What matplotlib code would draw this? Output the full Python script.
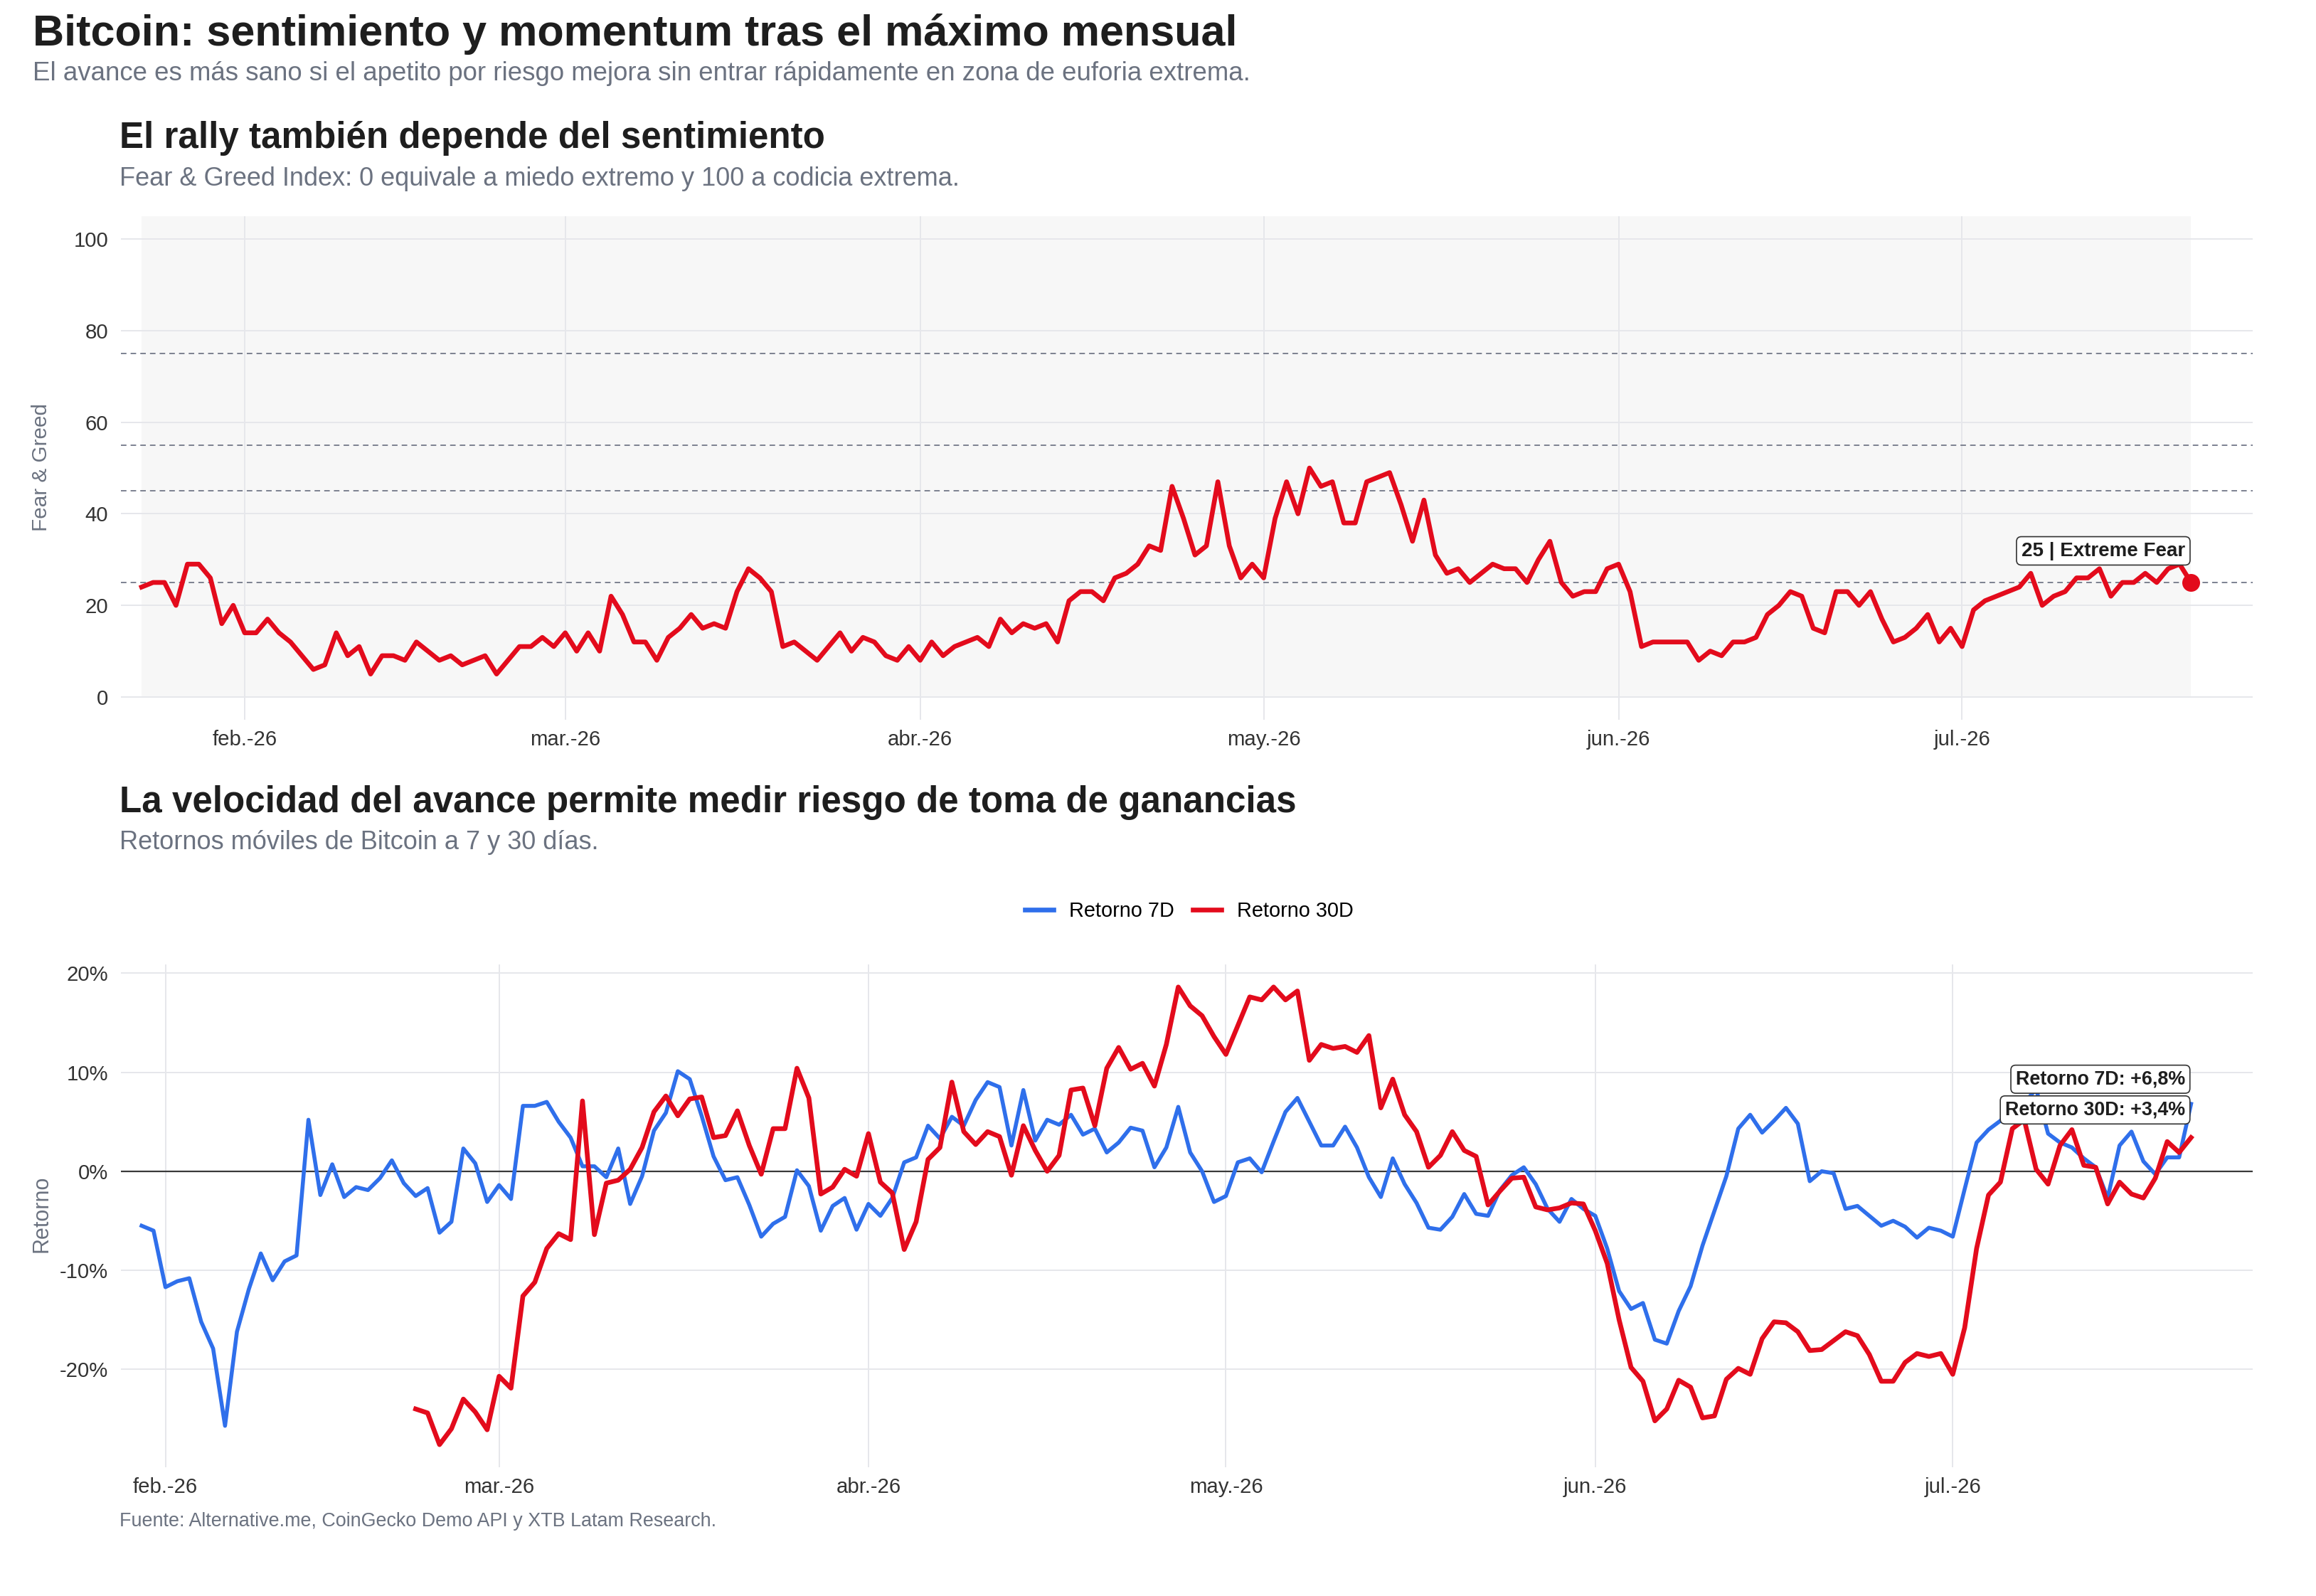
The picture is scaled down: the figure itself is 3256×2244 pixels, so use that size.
import numpy as np
import pandas as pd
import matplotlib
matplotlib.use("Agg")
import matplotlib.pyplot as plt
from matplotlib.lines import Line2D

plt.rcParams['font.family'] = ['Liberation Sans', 'DejaVu Sans']
plt.rcParams['axes.unicode_minus'] = False

# ---- data ----
start_date = "2026-01-23"
fear_greed = [24, 25, 25, 20, 29, 29, 26, 16, 20, 14, 14, 17, 14, 12, 9, 6, 7, 14, 9, 11,
              5, 9, 9, 8, 12, 10, 8, 9, 7, 8, 9, 5, 8, 11, 11, 13, 11, 14, 10, 14,
              10, 22, 18, 12, 12, 8, 13, 15, 18, 15, 16, 15, 23, 28, 26, 23, 11, 12, 10, 8,
              11, 14, 10, 13, 12, 9, 8, 11, 8, 12, 9, 11, 12, 13, 11, 17, 14, 16, 15, 16,
              12, 21, 23, 23, 21, 26, 27, 29, 33, 32, 46, 39, 31, 33, 47, 33, 26, 29, 26, 39,
              47, 40, 50, 46, 47, 38, 38, 47, 48, 49, 42, 34, 43, 31, 27, 28, 25, 27, 29, 28,
              28, 25, 30, 34, 25, 22, 23, 23, 28, 29, 23, 11, 12, 12, 12, 12, 8, 10, 9, 12,
              12, 13, 18, 20, 23, 22, 15, 14, 23, 23, 20, 23, 17, 12, 13, 15, 18, 12, 15, 11,
              19, 21, 22, 23, 24, 27, 20, 22, 23, 26, 26, 28, 22, 25, 25, 27, 25, 28, 29, 25]
fg_label = "Extreme Fear"
fg_levels = [25, 45, 55, 75]

# rolling returns in %, aligned to the end of the date range
ret_7d = [-5.5, -6.0, -11.7, -11.1, -10.8, -15.2, -17.9, -25.7, -16.2, -11.9,
          -8.3, -11.0, -9.1, -8.5, 5.2, -2.4, 0.7, -2.6, -1.6, -1.9,
          -0.7, 1.1, -1.2, -2.5, -1.7, -6.2, -5.1, 2.3, 0.8, -3.1,
          -1.4, -2.8, 6.6, 6.6, 7.0, 5.0, 3.4, 0.5, 0.5, -0.6,
          2.3, -3.3, -0.5, 4.1, 5.9, 10.1, 9.3, 5.6, 1.5, -0.9,
          -0.6, -3.4, -6.6, -5.3, -4.6, 0.1, -1.5, -6.0, -3.5, -2.7,
          -5.9, -3.3, -4.5, -2.7, 0.9, 1.4, 4.6, 3.3, 5.5, 4.6,
          7.2, 9.0, 8.5, 2.6, 8.2, 3.1, 5.2, 4.7, 5.7, 3.7,
          4.3, 1.9, 2.9, 4.4, 4.1, 0.4, 2.4, 6.5, 1.9, 0.0,
          -3.1, -2.5, 0.9, 1.3, -0.1, 3.0, 6.0, 7.4, 5.0, 2.6,
          2.6, 4.5, 2.4, -0.6, -2.6, 1.3, -1.3, -3.2, -5.7, -5.9,
          -4.6, -2.3, -4.3, -4.5, -1.9, -0.4, 0.4, -1.3, -3.8, -5.1,
          -2.8, -3.8, -4.5, -7.8, -12.1, -13.9, -13.3, -17.0, -17.4, -14.1,
          -11.6, -7.5, -4.0, -0.5, 4.3, 5.7, 3.9, 5.1, 6.4, 4.8,
          -1.0, 0.0, -0.2, -3.8, -3.5, -4.5, -5.5, -5.0, -5.6, -6.7,
          -5.7, -6.0, -6.6, -1.8, 2.9, 4.2, 5.1, 6.3, 6.9, 8.3,
          3.8, 2.9, 2.4, 1.3, 0.4, -2.7, 2.6, 4.0, 1.0, -0.3,
          1.4, 1.4, 6.8]
ret_30d = [-24.0, -24.4, -27.6, -26.0, -23.0, -24.3, -26.1, -20.7, -21.9, -12.6,
           -11.2, -7.8, -6.3, -6.9, 7.1, -6.4, -1.2, -0.9, 0.2, 2.4,
           6.0, 7.6, 5.6, 7.3, 7.5, 3.4, 3.6, 6.1, 2.6, -0.3,
           4.3, 4.3, 10.4, 7.4, -2.3, -1.6, 0.2, -0.5, 3.8, -1.1,
           -2.2, -7.9, -5.1, 1.2, 2.4, 9.0, 4.0, 2.7, 4.0, 3.5,
           -0.4, 4.6, 2.1, 0.0, 1.6, 8.2, 8.4, 4.6, 10.4, 12.5,
           10.3, 10.9, 8.6, 12.8, 18.6, 16.7, 15.7, 13.6, 11.8, 14.7,
           17.6, 17.3, 18.6, 17.3, 18.2, 11.2, 12.8, 12.4, 12.6, 12.0,
           13.7, 6.4, 9.3, 5.7, 4.0, 0.4, 1.6, 4.0, 2.1, 1.5,
           -3.4, -2.0, -0.7, -0.6, -3.6, -3.9, -3.7, -3.2, -3.3, -6.0,
           -9.3, -15.0, -19.8, -21.2, -25.2, -24.0, -21.1, -21.8, -24.9, -24.7,
           -21.0, -19.9, -20.5, -16.9, -15.2, -15.3, -16.2, -18.1, -18.0, -17.1,
           -16.2, -16.6, -18.5, -21.2, -21.2, -19.3, -18.4, -18.7, -18.4, -20.5,
           -15.8, -7.8, -2.4, -1.1, 4.3, 5.2, 0.2, -1.3, 2.6, 4.2,
           0.6, 0.4, -3.3, -1.1, -2.3, -2.7, -0.7, 3.0, 1.9, 3.4]

month_ticks = ["2026-02-01", "2026-03-01", "2026-04-01", "2026-05-01", "2026-06-01", "2026-07-01"]
month_labels = ["feb.-26", "mar.-26", "abr.-26", "may.-26", "jun.-26", "jul.-26"]

RED = "#E30B1C"
BLUE = "#2F6FEB"
GRID = "#E6E7EB"
SUB = "#6B7280"
DARK = "#1E1E1E"

dates = pd.date_range(start_date, periods=len(fear_greed), freq="D")
d7 = dates[len(dates) - len(ret_7d):]
d30 = dates[len(dates) - len(ret_30d):]
ticks = pd.to_datetime(month_ticks)


def style(ax, x0, x1):
    span = x1 - x0
    ax.set_xlim(x0 - 0.01 * span, x1 + 0.03 * span)
    for s in ax.spines.values():
        s.set_visible(False)
    ax.set_axisbelow(True)
    ax.grid(True, color=GRID, lw=0.7)
    ax.tick_params(length=0, labelsize=10.6, labelcolor="#333333")
    ax.tick_params(axis="y", pad=6.5)
    ax.tick_params(axis="x", pad=5)
    ax.set_xticks(ticks)
    ax.set_xticklabels(month_labels)


fig = plt.figure(figsize=(16.28, 11.22), dpi=200)

fig.text(0.014, 0.9713, "Bitcoin: sentimiento y momentum tras el máximo mensual",
         fontsize=22, fontweight="bold", color=DARK, va="baseline")
fig.text(0.014, 0.9495, "El avance es más sano si el apetito por riesgo mejora sin entrar "
         "rápidamente en zona de euforia extrema.", fontsize=13.2, color=SUB, va="baseline")

# ---- top panel ----
fig.text(0.0515, 0.9075, "El rally también depende del sentimiento",
         fontsize=18.4, fontweight="bold", color=DARK, va="baseline")
fig.text(0.0515, 0.8835, "Fear & Greed Index: 0 equivale a miedo extremo y 100 a codicia extrema.",
         fontsize=13, color=SUB, va="baseline")

ax1 = fig.add_axes([0.0523, 0.549, 0.9203, 0.3155])
style(ax1, dates[0], dates[-1])
ax1.set_ylim(-5, 105)
ax1.set_yticks([0, 20, 40, 60, 80, 100])
ax1.fill_between([dates[0], dates[-1]], 0, 105, color="#F7F7F7", zorder=0.2, lw=0)
for lv in fg_levels:
    ax1.axhline(lv, color="#7C8190", lw=0.7, ls=(0, (4, 3)), zorder=1)
ax1.plot(dates, fear_greed, color=RED, lw=2.4, zorder=3, solid_joinstyle="round")
ax1.plot(dates[-1], fear_greed[-1], "o", ms=8, color=RED, zorder=4)
ax1.annotate(f"{fear_greed[-1]} | {fg_label}", xy=(dates[-1], fear_greed[-1]),
             xytext=(-3, 16), textcoords="offset points", ha="right", va="center",
             fontsize=10, fontweight="bold", color=DARK, zorder=5,
             bbox=dict(boxstyle="round,pad=0.25,rounding_size=0.25", fc="white", ec="#333333", lw=0.6))
fig.text(0.0179, 0.7072, "Fear & Greed", rotation=90, ha="center", va="center",
         fontsize=10.7, color=SUB)

# ---- bottom panel ----
fig.text(0.0515, 0.4912, "La velocidad del avance permite medir riesgo de toma de ganancias",
         fontsize=18.4, fontweight="bold", color=DARK, va="baseline")
fig.text(0.0515, 0.468, "Retornos móviles de Bitcoin a 7 y 30 días.",
         fontsize=13, color=SUB, va="baseline")

ax2 = fig.add_axes([0.0523, 0.0805, 0.9203, 0.3154])
style(ax2, d7[0], d7[-1])
lo = min(min(ret_7d), min(ret_30d))
hi = max(max(ret_7d), max(ret_30d))
pad = 0.05 * (hi - lo)
ax2.set_ylim(lo - pad, hi + pad)
ax2.set_yticks([-20, -10, 0, 10, 20])
ax2.set_yticklabels([f"{v}%" for v in [-20, -10, 0, 10, 20]])
ax2.axhline(0, color="#3A3A3A", lw=0.8, zorder=1)
ax2.plot(d7, ret_7d, color=BLUE, lw=2.0, zorder=3, solid_joinstyle="round")
ax2.plot(d30, ret_30d, color=RED, lw=2.4, zorder=3, solid_joinstyle="round")


def pct(v):
    return f"{v:+.1f}%".replace(".", ",")


box = dict(boxstyle="round,pad=0.25,rounding_size=0.25", fc="white", ec="#333333", lw=0.6)
ax2.annotate(f"Retorno 7D: {pct(ret_7d[-1])}", xy=(d7[-1], ret_7d[-1]), xytext=(-3, 12.5),
             textcoords="offset points", ha="right", va="center", fontsize=9.7,
             fontweight="bold", color=DARK, bbox=box, zorder=5)
ax2.annotate(f"Retorno 30D: {pct(ret_30d[-1])}", xy=(d30[-1], ret_30d[-1]), xytext=(-3, 14),
             textcoords="offset points", ha="right", va="center", fontsize=9.7,
             fontweight="bold", color=DARK, bbox=box, zorder=5)
fig.text(0.0179, 0.2396, "Retorno", rotation=90, ha="center", va="center",
         fontsize=11, color=SUB)

handles = [Line2D([], [], color=BLUE, lw=2.4), Line2D([], [], color=RED, lw=2.4)]
fig.legend(handles, ["Retorno 7D", "Retorno 30D"], loc="center", bbox_to_anchor=(0.5134, 0.4292),
           ncol=2, frameon=False, fontsize=10.4, handlelength=1.4, handletextpad=0.75,
           columnspacing=0.9)

fig.text(0.0515, 0.0435, "Fuente: Alternative.me, CoinGecko Demo API y XTB Latam Research.",
         fontsize=9.7, color=SUB, va="baseline")

fig.savefig("out.png", dpi=200, facecolor="white")
